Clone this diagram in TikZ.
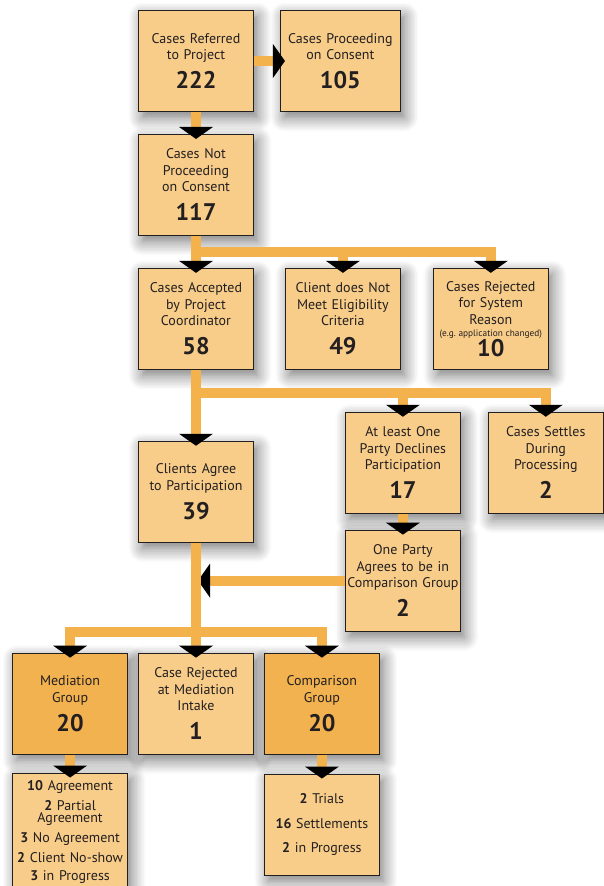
\documentclass[tikz,border=0pt]{standalone}
\usepackage{fontspec}
\setmainfont{PT Sans}
\usepackage{xcolor}
\usetikzlibrary{positioning, arrows.meta, calc, shadows.blur}
\definecolor{boxlight}{RGB}{248, 205, 138}
\definecolor{boxdark}{RGB}{242, 178, 80}
\definecolor{flowline}{RGB}{243, 178, 76}
\definecolor{inkdark}{RGB}{35, 31, 32}
\newcommand{\casecount}[2][29pt]{{\fontsize{24}{#1}\selectfont\bfseries #2\par}}

\begin{document}
\begin{tikzpicture}[
  x=1pt, y=1pt,
  font=\fontsize{14}{16.5}\selectfont,
  text=inkdark,
  node distance=20pt,
  box/.style={
    draw=inkdark, line width=0.9pt, align=center,
    minimum width=115pt, minimum height=101pt,
    text width=113pt, inner sep=0pt,
    fill=boxlight,
    blur shadow={shadow xshift=4pt, shadow yshift=-6pt,
      shadow blur radius=14pt, shadow blur steps=10, shadow opacity=55}
  },
  group/.style={box, fill=boxdark},
  flow/.style={draw=flowline, line width=10pt,
    -{Triangle[width=34pt, length=12pt, line width=0pt, color=black]},
    shorten >=-5pt},
  link/.style={draw=flowline, line width=10pt}
]
\useasboundingbox (0,0) rectangle (603,-886);

% boxes
\node[box] (referred) at (196,-61) {Cases Referred\\to Project\\\casecount{222}};
\node[box, right=26pt of referred, minimum width=120pt] (consent) {Cases Proceeding\\on Consent\\\casecount{105}};
\node[box, below=22pt of referred] (notconsent) {Cases Not\\Proceeding\\on Consent\\\casecount{117}};
\node[box, below=32pt of notconsent] (accepted) {Cases Accepted\\by Project\\Coordinator\\\casecount{58}};
\node[box, right=31pt of accepted] (ineligible) {Client does Not\\Meet Eligibility\\Criteria\\\casecount{49}};
\node[box, right=32pt of ineligible] (rejected) {Cases Rejected\\for System\\Reason\\{\fontsize{9.3}{12}\selectfont\spaceskip=0pt (e.g.\ application changed)\par}\casecount[20pt]{10}};
\node[box, below right=42pt and 91pt of accepted] (declines) {At least One\\Party Declines\\Participation\\\casecount{17}};
\node[box, right=27pt of declines] (settles) {Cases Settles\\During\\Processing\\\casecount{2}};
\node[box, below=71pt of accepted] (agree) {Clients Agree\\to Participation\\\casecount{39}};
\node[box, below=16pt of declines] (onecomp) {One Party\\Agrees to be in\\Comparison Group\\\casecount{2}};
\node[group, below left=110pt and 10pt of agree] (mediation) {Mediation\\Group\\\casecount{20}};
\node[box, below=110pt of agree] (intake) {Case Rejected\\at Mediation\\Intake\\\casecount{1}};
\node[group, right=10pt of intake] (comparison) {Comparison\\Group\\\casecount{20}};
\node[box, below=18pt of mediation, minimum height=118pt,
  font=\fontsize{14}{12.5}\selectfont] (medresult)
  {\textbf{10} Agreement\\[6pt]\textbf{2} Partial\\Agreement\\[6pt]\textbf{3} No Agreement\\[6pt]\textbf{2} Client No-show\\[6pt]\textbf{3} in Progress};
\node[box, below=19pt of comparison,
  font=\fontsize{14}{12.5}\selectfont] (compresult)
  {\textbf{2} Trials\\[12pt]\textbf{16} Settlements\\[12pt]\textbf{2} in Progress};

% connectors
\coordinate (split1) at ($(notconsent.south)!0.5!(accepted.north)$);
\coordinate (split2) at ($(accepted.south)+(0,-23)$);
\coordinate (split3) at ($(agree.south)+(0,-89)$);
\draw[flow] (referred) -- (consent);
\draw[flow] (referred) -- (notconsent);
\draw[flow] (notconsent) -- (accepted);
\draw[flow] (split1) -| (ineligible.north);
\draw[flow] (split1) -| (rejected.north);
\draw[flow] (accepted) -- (agree);
\draw[flow] (split2) -| (declines.north);
\draw[flow] (split2) -| (settles.north);
\draw[flow] (declines) -- (onecomp);
\draw[flow, shorten >=2pt] (onecomp.west) -- (onecomp.west -| agree.south);
\draw[flow] (agree) -- (intake);
\draw[flow] (split3) -| (mediation.north);
\draw[flow] (split3) -| (comparison.north);
\draw[flow] (mediation) -- (medresult);
\draw[flow] (comparison) -- (compresult);
\end{tikzpicture}
\end{document}
